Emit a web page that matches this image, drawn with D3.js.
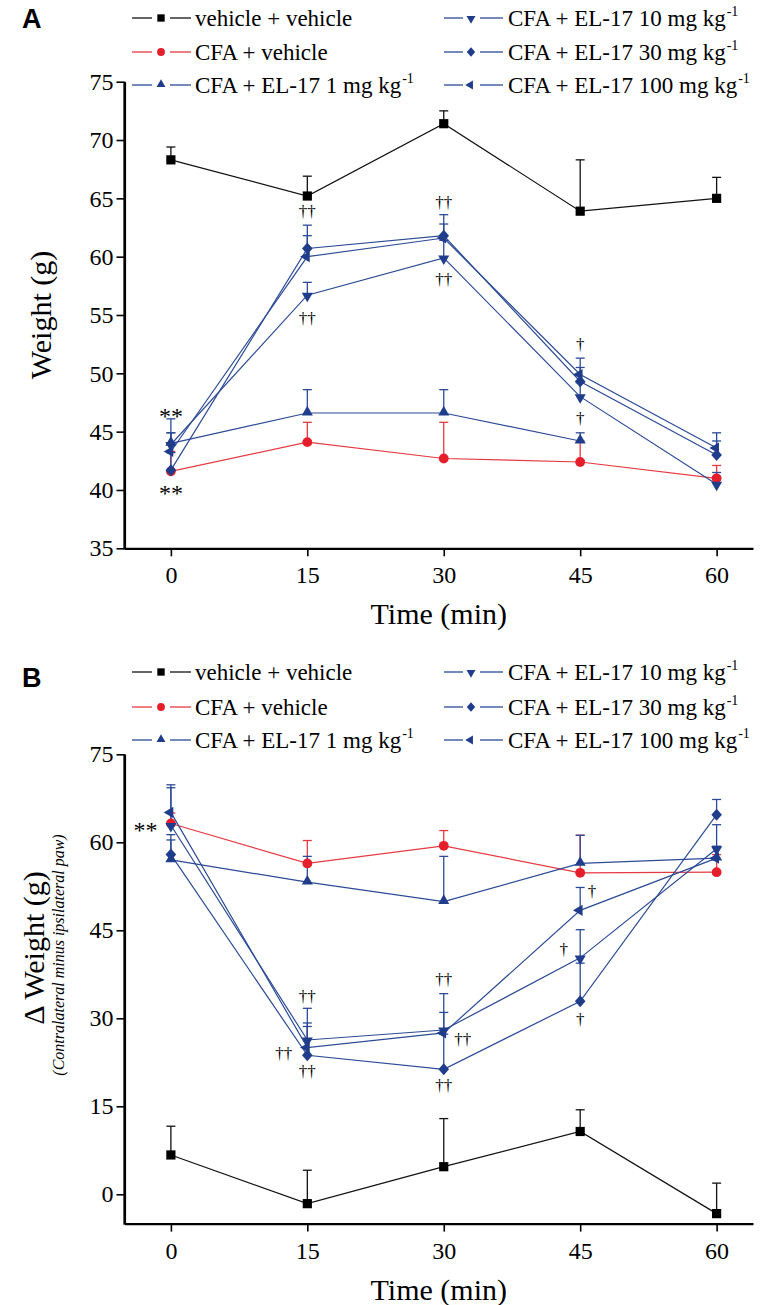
<!DOCTYPE html>
<html><head><meta charset="utf-8">
<script src="https://cdn.jsdelivr.net/npm/d3@7"></script>
<style>body{margin:0;background:#fff;} svg{display:block;}</style>
</head><body>
<svg id="chart" width="766" height="1305"></svg>
<script>
// ---------------- DATA ----------------
const times = [0, 15, 30, 45, 60];
const seriesLabels = ["vehicle + vehicle", "CFA + vehicle", "CFA + EL-17 1 mg kg", "CFA + EL-17 10 mg kg", "CFA + EL-17 30 mg kg", "CFA + EL-17 100 mg kg"];
const seriesSup = ["", "", "-1", "-1", "-1", "-1"];

// Panel A: Weight (g), mean and SEM
const aVehicle     = [68.3, 65.2, 71.4, 63.9, 65.0];
const aVehicleSem  = [1.1, 1.7, 1.1, 4.4, 1.8];
const aCfa         = [41.6, 44.1, 42.7, 42.4, 41.0];
const aCfaSem      = [1.7, 1.7, 3.1, 1.8, 1.1];
const aEl1         = [44.0, 46.6, 46.6, 44.2, null];
const aEl1Sem      = [2.1, 2.0, 2.0, 0.7, null];
const aEl10        = [43.9, 56.7, 59.9, 48.0, 40.5];
const aEl10Sem     = [1.0, 1.1, 1.5, 1.2, 1.0];
const aEl30        = [41.7, 60.7, 61.8, 49.3, 43.0];
const aEl30Sem     = [1.5, 2.0, 1.8, 1.2, 1.2];
const aEl100       = [43.3, 60.0, 61.6, 49.9, 43.6];
const aEl100Sem    = [1.6, 1.8, 1.2, 1.4, 1.3];
const aYTicks = [35, 40, 45, 50, 55, 60, 65, 70, 75];
const aMarks = [
  {t: 0, v: 46.7, s: "**"}, {t: 0, v: 40.1, s: "**"},
  {t: 15, v: 63.8, s: "††"}, {t: 15, v: 54.7, s: "††"},
  {t: 30, v: 64.6, s: "††"}, {t: 30, v: 58.0, s: "††"},
  {t: 45, v: 52.4, s: "†"}, {t: 45, v: 46.1, s: "†"}
];

// Panel B: Δ Weight (g), mean and SEM
const bVehicle     = [6.7, -1.6, 4.7, 10.7, -3.3];
const bVehicleSem  = [4.9, 5.7, 8.2, 3.7, 5.2];
const bCfa         = [63.2, 56.4, 59.4, 54.8, 54.9];
const bCfaSem      = [1.8, 3.9, 2.6, 6.4, 3.0];
const bEl1         = [57.0, 53.2, 49.9, 56.4, 57.3];
const bEl1Sem      = [3.4, 4.4, 7.7, 4.8, 2.0];
const bEl10        = [62.9, 26.3, 28.0, 40.3, 58.9];
const bEl10Sem     = [6.4, 5.4, 6.2, 4.8, 4.1];
const bEl30        = [57.9, 23.7, 21.3, 32.9, 64.7];
const bEl30Sem     = [3.4, 4.9, 6.0, 6.5, 2.6];
const bEl100       = [65.1, 25.0, 27.5, 48.4, 57.3];
const bEl100Sem    = [4.7, 4.2, 3.5, 3.9, 2.0];
const bYTicks = [0, 15, 30, 45, 60, 75];
const bMarks = [
  {t: -2.8, v: 62.8, s: "**"},
  {t: 15, v: 33.7, s: "††"}, {t: 12.4, v: 24.0, s: "††"}, {t: 15, v: 20.9, s: "††"},
  {t: 30, v: 36.5, s: "††"}, {t: 32.1, v: 26.3, s: "††"}, {t: 30, v: 18.45, s: "††"},
  {t: 46.3, v: 51.6, s: "†"}, {t: 43.2, v: 41.6, s: "†"}, {t: 45, v: 29.7, s: "†"}
];

// ---------------- STYLE ----------------
const BLUE = "#1f3d8b", RED = "#e41f2b", BLACK = "#000";
const colors = [BLACK, RED, BLUE, BLUE, BLUE, BLUE];
const lineColors = ["#111", "#e53a42", "#2c4a96", "#2c4a96", "#2c4a96", "#2c4a96"];
const shapes = ["square", "circle", "up", "down", "diamond", "left"];
const SERIF = "'Liberation Serif', 'Times New Roman', serif";

function markerPath(shape, s) {
  const p = d3.path();
  if (shape === "square") { const h = 4.6 * s; p.rect(-h, -h, 2 * h, 2 * h); }
  else if (shape === "circle") { p.arc(0, 0, 4.9 * s, 0, 2 * Math.PI); }
  else if (shape === "diamond") { const w = 5.3 * s, h = 6.0 * s; p.moveTo(0, -h); p.lineTo(w, 0); p.lineTo(0, h); p.lineTo(-w, 0); p.closePath(); }
  else {
    const r = 6.4 * s;
    const pts = [[0, -r], [r * 0.866, r * 0.5], [-r * 0.866, r * 0.5]];
    const rot = {up: 0, down: Math.PI, left: -Math.PI / 2}[shape];
    pts.forEach((q, i) => {
      const xx = q[0] * Math.cos(rot) - q[1] * Math.sin(rot);
      const yy = q[0] * Math.sin(rot) + q[1] * Math.cos(rot) + (shape === "up" ? -0.8 * s : shape === "down" ? 0.8 * s : 0);
      const xx2 = shape === "left" ? xx - 0.8 * s : xx;
      if (i === 0) p.moveTo(xx2, yy); else p.lineTo(xx2, yy);
    });
    p.closePath();
  }
  return p.toString();
}

const svg = d3.select("#chart");
const X0 = 124.5, X1 = 753;
const x = d3.scaleLinear().domain([-5.1, 64]).range([X0, X1]);

function drawPanel(cfg) {
  const y = d3.scaleLinear().domain(cfg.yDomain).range([cfg.yBottom, cfg.yTop]);
  const g = svg.append("g");

  // Axes
  const ya = g.append("g").attr("transform", `translate(${X0},0)`)
    .call(d3.axisLeft(y).tickValues(cfg.yTicks).tickSize(8).tickSizeOuter(0).tickPadding(3));
  const xa = g.append("g").attr("transform", `translate(0,${cfg.yBottom})`)
    .call(d3.axisBottom(x).tickValues(times).tickSize(8).tickSizeOuter(0).tickPadding(10));
  [ya, xa].forEach(a => {
    a.select(".domain").attr("stroke", "#000").attr("stroke-width", 2.2);
    a.selectAll(".tick line").attr("stroke", "#000").attr("stroke-width", 1.6);
    a.selectAll(".tick text").attr("font-family", SERIF).attr("font-size", 24).attr("fill", "#000");
  });
  // Extend the y-axis domain line to meet the x-axis fully
  g.append("line").attr("x1", X0).attr("x2", X0).attr("y1", cfg.yTop).attr("y2", cfg.yBottom + 1.1)
    .attr("stroke", "#000").attr("stroke-width", 2.2);

  g.append("text").attr("x", (X0 + X1) / 2).attr("y", cfg.yBottom + 76)
    .attr("text-anchor", "middle").attr("font-family", SERIF).attr("font-size", 30).text("Time (min)");

  cfg.yTitle(g);

  // Series
  const series = cfg.data.map((d, i) => ({
    i, pts: times.map((t, k) => ({t, v: d[0][k], e: d[1][k]}))
  }));
  const line = d3.line().defined(p => p.v != null).x(p => x(p.t)).y(p => y(p.v));
  series.forEach(s => {
    g.append("path").attr("d", line(s.pts)).attr("fill", "none")
      .attr("stroke", lineColors[s.i]).attr("stroke-width", 1.2);
  });
  series.forEach(s => {
    s.pts.filter(p => p.v != null).forEach(p => {
      const top = y(p.v + p.e), cx = x(p.t);
      g.append("line").attr("x1", cx).attr("x2", cx).attr("y1", y(p.v)).attr("y2", top)
        .attr("stroke", lineColors[s.i]).attr("stroke-width", 1.3);
      g.append("line").attr("x1", cx - 4.5).attr("x2", cx + 4.5).attr("y1", top).attr("y2", top)
        .attr("stroke", lineColors[s.i]).attr("stroke-width", 1.3);
    });
  });
  series.forEach(s => {
    s.pts.filter(p => p.v != null).forEach(p => {
      g.append("path").attr("d", markerPath(shapes[s.i], 1))
        .attr("transform", `translate(${x(p.t)},${y(p.v)})`)
        .attr("fill", colors[s.i]);
    });
  });

  // significance marks
  cfg.marks.forEach(m => {
    const star = m.s === "**";
    const fs = star ? 24 : 17;
    g.append("text").attr("x", x(m.t)).attr("y", y(m.v) + (star ? 0.52 : 0.3) * fs)
      .attr("text-anchor", "middle").attr("font-family", SERIF).attr("font-size", fs)
      .attr("fill", "#000").text(m.s);
  });

  // Legend
  const cols = [{seg1: [132, 152], mk: 161, seg2: [170, 191], tx: 195}, {seg1: [444, 463], mk: 471, seg2: [480, 503], tx: 508}];
  seriesLabels.forEach((lab, i) => {
    const c = cols[Math.floor(i / 3)], yy = cfg.legendRows[i % 3];
    const lg = g.append("g");
    [c.seg1, c.seg2].forEach(sg => lg.append("line").attr("x1", sg[0]).attr("x2", sg[1]).attr("y1", yy).attr("y2", yy)
      .attr("stroke", lineColors[i]).attr("stroke-width", 1.3));
    lg.append("path").attr("d", markerPath(shapes[i], 0.8)).attr("transform", `translate(${c.mk},${yy})`).attr("fill", colors[i]);
    const t = lg.append("text").attr("x", c.tx).attr("y", yy + 8).attr("font-family", SERIF).attr("font-size", 23).attr("fill", "#000").text(lab);
    if (seriesSup[i]) t.append("tspan").attr("font-size", 14).attr("dy", -10).attr("dx", 1).text(seriesSup[i]);
  });

  svg.append("text").attr("x", 22).attr("y", cfg.letterY).attr("font-family", "'Liberation Sans', Arial, sans-serif")
    .attr("font-weight", "bold").attr("font-size", 27).text(cfg.letter);
}

drawPanel({
  letter: "A", letterY: 28,
  yDomain: [35, 75], yBottom: 548.3, yTop: 81.7, yTicks: aYTicks,
  legendRows: [18, 52, 85],
  data: [[aVehicle, aVehicleSem], [aCfa, aCfaSem], [aEl1, aEl1Sem], [aEl10, aEl10Sem], [aEl30, aEl30Sem], [aEl100, aEl100Sem]],
  marks: aMarks,
  yTitle: g => g.append("text").attr("transform", "translate(40,315) rotate(-90)").attr("text-anchor", "middle")
    .attr("dominant-baseline", "central").attr("font-family", SERIF).attr("font-size", 30).text("Weight (g)")
});

drawPanel({
  letter: "B", letterY: 687,
  yDomain: [-5, 75], yBottom: 1223.6, yTop: 754.3, yTicks: bYTicks,
  legendRows: [672, 707, 740],
  data: [[bVehicle, bVehicleSem], [bCfa, bCfaSem], [bEl1, bEl1Sem], [bEl10, bEl10Sem], [bEl30, bEl30Sem], [bEl100, bEl100Sem]],
  marks: bMarks,
  yTitle: g => {
    g.append("text").attr("transform", "translate(33,948) rotate(-90)").attr("text-anchor", "middle")
      .attr("dominant-baseline", "central").attr("font-family", SERIF).attr("font-size", 30).text("Δ Weight (g)");
    g.append("text").attr("transform", "translate(58,955) rotate(-90)").attr("text-anchor", "middle")
      .attr("dominant-baseline", "central").attr("font-family", SERIF).attr("font-style", "italic").attr("font-size", 16)
      .text("(Contralateral minus ipsilateral paw)");
  }
});
</script>
</body></html>
